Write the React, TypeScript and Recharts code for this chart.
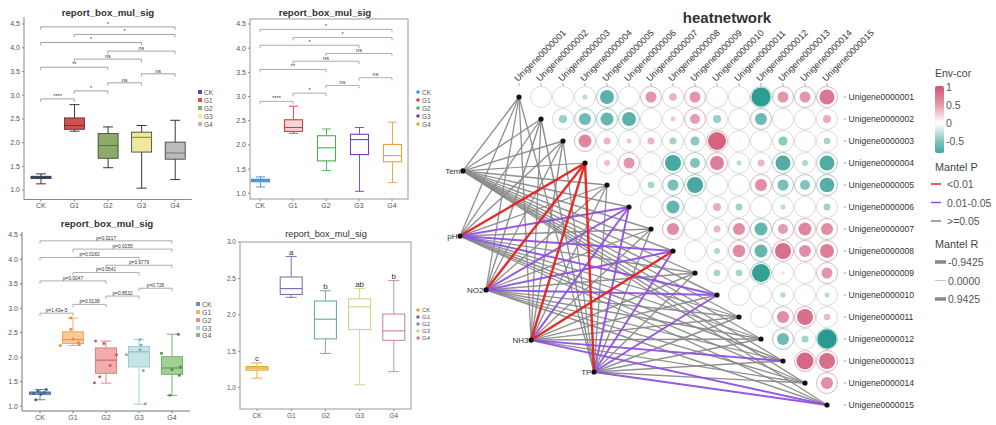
import React from 'react';
import {
  ComposedChart, Bar, XAxis, YAxis, ReferenceLine, LabelList,
  ScatterChart, Scatter, ReferenceDot,
} from 'recharts';

const FONT = '"Liberation Sans", Arial, Helvetica, sans-serif';

// ---------------- box plot data ----------------
const GROUPS = ['CK', 'G1', 'G2', 'G3', 'G4'];
const BOX_MIN = [1.13, 2.24, 1.47, 1.04, 1.22];
const BOX_Q1 = [1.24, 2.28, 1.67, 1.80, 1.65];
const BOX_MEDIAN = [1.27, 2.36, 1.94, 2.11, 1.78];
const BOX_Q3 = [1.29, 2.52, 2.19, 2.22, 2.01];
const BOX_MAX = [1.34, 2.80, 2.33, 2.36, 2.47];
const POINTS_CK = [1.34, 1.31, 1.28, 1.26, 1.24, 1.13];
const POINTS_G1 = [2.80, 2.57, 2.37, 2.30, 2.26, 2.24];
const POINTS_G2 = [2.33, 2.28, 2.05, 1.83, 1.60, 1.48];
const POINTS_G3 = [2.36, 2.25, 2.15, 2.05, 1.73, 1.05];
const POINTS_G4 = [2.47, 2.08, 1.80, 1.75, 1.63, 1.22];
const LETTERS = ['c', 'a', 'b', 'ab', 'b'];

// pairwise comparisons (bottom to top)
const CMP_FROM = ['CK', 'G1', 'G2', 'G3', 'CK', 'G1', 'G2', 'CK', 'G1', 'CK'];
const CMP_TO = ['G1', 'G2', 'G3', 'G4', 'G2', 'G3', 'G4', 'G3', 'G4', 'G4'];
const CMP_STARS = ['****', '*', 'ns', 'ns', '**', 'ns', 'ns', '*', '*', '*'];
const CMP_PVALUES = ['p=1.43e-5', 'p=0.0138', 'p=0.8532', 'p=0.726', 'p=0.0047', 'p=0.0541', 'p=0.6779', 'p=0.0182', 'p=0.0155', 'p=0.0217'];
const BRACKET_Y_A = [2.92, 3.09, 3.26, 3.45, 3.59, 3.76, 3.93, 4.11, 4.28, 4.44];
const BRACKET_Y_B = [2.90, 3.07, 3.23, 3.39, 3.56, 3.73, 3.89, 4.06, 4.22, 4.39];
const BRACKET_Y_C = [2.90, 3.08, 3.25, 3.41, 3.56, 3.73, 3.88, 4.04, 4.21, 4.38];

const TICKS_ABC = [1, 1.5, 2, 2.5, 3, 3.5, 4, 4.5];
const TICKS_D = [1, 1.5, 2, 2.5, 3];

// jitter (fraction of box width) for the dots in panel C
const JITTER = [
  [0.3, -0.1, 0.2, -0.3, 0.05, -0.2],
  [-0.1, -0.1, 0, 0.25, 0.3, -0.6],
  [-0.5, -0.1, 0.5, 0.2, -0.3, -0.55],
  [0.05, 0.1, 0.05, -0.6, 0.2, 0.3],
  [0.3, -0.5, 0.4, 0, 0.35, -0.1],
];
const GROUP_POINTS = [POINTS_CK, POINTS_G1, POINTS_G2, POINTS_G3, POINTS_G4];

const boxData = GROUPS.map((g, i) => ({
  group: g,
  idx: i,
  min: BOX_MIN[i],
  q1: BOX_Q1[i],
  med: BOX_MEDIAN[i],
  q3: BOX_Q3[i],
  max: BOX_MAX[i],
  range: [BOX_MIN[i], BOX_MAX[i]],
  pts: GROUP_POINTS[i],
  letter: LETTERS[i],
}));

// ---------------- heat network data ----------------
const GENES = [
  'Unigene0000001', 'Unigene0000002', 'Unigene0000003', 'Unigene0000004', 'Unigene0000005',
  'Unigene0000006', 'Unigene0000007', 'Unigene0000008', 'Unigene0000009', 'Unigene0000010',
  'Unigene0000011', 'Unigene0000012', 'Unigene0000013', 'Unigene0000014', 'Unigene0000015',
];
// correlation of gene i with genes i+1..15
const COR_ROW_1 = [0, 0, -0.25, -0.7, 0.05, 0.55, 0.38, 0.55, 0.05, 0, -0.95, 0.55, 0.55, 0.75];
const COR_ROW_2 = [-0.4, -0.6, -0.65, -0.7, 0.03, 0.25, 0.5, -0.4, 0.03, -0.6, 0.05, 0, 0.4];
const COR_ROW_3 = [0.65, 0.35, 0.25, 0.35, -0.35, -0.45, 0.9, 0.1, 0, -0.45, 0.08, -0.33];
const COR_ROW_4 = [0.3, 0.55, 0.1, -0.8, -0.5, 0.7, -0.25, 0.35, -0.75, -0.3, -0.75];
const COR_ROW_5 = [0.05, -0.33, -0.55, -0.8, 0, 0.08, 0.6, -0.55, -0.5, -0.73];
const COR_ROW_6 = [0.05, -0.65, 0, 0.4, -0.35, 0.03, -0.25, 0, -0.35];
const COR_ROW_7 = [0.6, 0, 0.35, 0.6, -0.65, 0.5, 0.65, 0.6];
const COR_ROW_8 = [0, -0.3, 0.62, -0.65, 0.8, 0.6, 0.7];
const COR_ROW_9 = [-0.33, -0.33, -0.9, 0.15, 0, 0.55];
const COR_ROW_10 = [0, 0, -0.27, 0.08, -0.25];
const COR_ROW_11 = [0.03, 0.6, 0.8, 0.33];
const COR_ROW_12 = [-0.6, -0.35, -0.97];
const COR_ROW_13 = [0.85, 0.8];
const COR_ROW_14 = [0.6];
const COR_ROWS = [COR_ROW_1, COR_ROW_2, COR_ROW_3, COR_ROW_4, COR_ROW_5, COR_ROW_6, COR_ROW_7,
  COR_ROW_8, COR_ROW_9, COR_ROW_10, COR_ROW_11, COR_ROW_12, COR_ROW_13, COR_ROW_14];

const ENV_NAMES = ['Tem', 'pH', 'NO2', 'NH3', 'TP'];
const MANTEL_P_TEM = [0.3, 0.3, 0.3, 0.3, 0.3, 0.3, 0.3, 0.3, 0.3, 0.3, 0.3, 0.3, 0.3, 0.3, 0.3];
const MANTEL_P_PH = [0.2, 0.2, 0.2, 0.005, 0.2, 0.03, 0.2, 0.02, 0.2, 0.04, 0.2, 0.2, 0.2, 0.2, 0.2];
const MANTEL_P_NO2 = [0.2, 0.2, 0.2, 0.004, 0.2, 0.03, 0.2, 0.03, 0.2, 0.02, 0.2, 0.2, 0.2, 0.2, 0.2];
const MANTEL_P_NH3 = [0.2, 0.2, 0.2, 0.005, 0.2, 0.04, 0.2, 0.006, 0.2, 0.2, 0.2, 0.2, 0.03, 0.2, 0.02];
const MANTEL_P_TP = [0.2, 0.2, 0.2, 0.003, 0.2, 0.03, 0.2, 0.02, 0.2, 0.04, 0.2, 0.2, 0.2, 0.2, 0.03];
const MANTEL_R_TEM = [0.3, 0.25, 0.3, 0.2, 0.3, 0.25, 0.3, 0.28, 0.25, 0.3, 0.25, 0.28, 0.25, 0.3, 0.25];
const MANTEL_R_PH = [0.25, 0.25, 0.3, 0.6, 0.25, 0.45, 0.3, 0.45, 0.25, 0.45, 0.25, 0.25, 0.3, 0.25, 0.25];
const MANTEL_R_NO2 = [0.25, 0.3, 0.25, 0.6, 0.25, 0.45, 0.25, 0.45, 0.3, 0.45, 0.25, 0.3, 0.25, 0.25, 0.3];
const MANTEL_R_NH3 = [0.25, 0.25, 0.3, 0.6, 0.25, 0.45, 0.25, 0.6, 0.3, 0.25, 0.25, 0.3, 0.45, 0.25, 0.45];
const MANTEL_R_TP = [0.25, 0.3, 0.25, 0.6, 0.25, 0.45, 0.3, 0.45, 0.25, 0.45, 0.3, 0.25, 0.3, 0.25, 0.45];
const MANTEL_P = [MANTEL_P_TEM, MANTEL_P_PH, MANTEL_P_NO2, MANTEL_P_NH3, MANTEL_P_TP];
const MANTEL_R = [MANTEL_R_TEM, MANTEL_R_PH, MANTEL_R_NO2, MANTEL_R_NH3, MANTEL_R_TP];
const MANTEL_R_LEGEND = [-0.9425, 0, 0.9425];
const COR_LEGEND_TICKS = [1, 0.5, 0, -0.5];

// layout of environmental nodes in the heat grid's units (column, row)
const ENV_NODE_LAYOUT = [[-1.55, 4.36], [-1.68, 7.32], [-0.5, 9.77], [1.55, 12.05], [4.41, 13.5]];

// ---------------- helpers ----------------
const POS_RGB = [210, 84, 116];
const NEG_RGB = [36, 152, 141];
function corColor(v: number) {
  const t = Math.pow(Math.min(1, Math.abs(v)), 0.8);
  const c = v >= 0 ? POS_RGB : NEG_RGB;
  const m = c.map((ch) => Math.round(255 + (ch - 255) * t));
  return `rgb(${m[0]},${m[1]},${m[2]})`;
}
function ringColor(v: number) {
  const a = Math.abs(v);
  if (a < 0.5) return '#d2d2d2';
  const c = v >= 0 ? POS_RGB : NEG_RGB;
  const t = 0.35;
  const m = c.map((ch) => Math.round(210 + (ch - 210) * t));
  return `rgb(${m[0]},${m[1]},${m[2]})`;
}
const pColor = (p: number) => (p < 0.01 ? '#e3231d' : p < 0.05 ? '#9050e0' : '#8a8a8a');
const rWidth = (r: number) => 0.5 + 3.2 * Math.abs(r);

// ---------------- box panel ----------------
type Cfg = {
  left: number; top: number; width: number; height: number;
  margin: { top: number; right: number; bottom: number; left: number };
  yWidth: number; xHeight: number; domain: [number, number]; ticks: number[];
  xPadding: { left: number; right: number }; barSize: number;
  fills: string[]; strokes: string[]; medians: string[]; whiskers: string[];
  boxStroke: number; fillOpacity: number;
  bracketY?: number[]; bracketLabels?: string[]; bracketColor: string; bracketFont: number; bracketTick: number;
  letters?: boolean; points?: boolean; pointColors?: string[];
  axisLine: boolean; axisColor: string; tickFont: number;
};

function renderBox(props: any, cfg: Cfg) {
  const { x, y, width, height, payload } = props;
  if (!payload || width == null) return <g />;
  const top = Math.min(y, y + height);
  const bot = Math.max(y, y + height);
  const span = payload.max - payload.min;
  const py = (v: number) => bot - ((bot - top) * (v - payload.min)) / span;
  const i = payload.idx;
  const cx = x + width / 2;
  const capW = width * 0.5;
  const ws = cfg.whiskers[i];
  return (
    <g>
      <line x1={cx} x2={cx} y1={py(payload.max)} y2={py(payload.q3)} stroke={ws} strokeWidth={0.9} />
      <line x1={cx} x2={cx} y1={py(payload.q1)} y2={py(payload.min)} stroke={ws} strokeWidth={0.9} />
      <line x1={cx - capW / 2} x2={cx + capW / 2} y1={py(payload.max)} y2={py(payload.max)} stroke={ws} strokeWidth={0.9} />
      <line x1={cx - capW / 2} x2={cx + capW / 2} y1={py(payload.min)} y2={py(payload.min)} stroke={ws} strokeWidth={0.9} />
      <rect x={x} y={py(payload.q3)} width={width} height={Math.max(0.5, py(payload.q1) - py(payload.q3))}
        fill={cfg.fills[i]} fillOpacity={cfg.fillOpacity} stroke={cfg.strokes[i]} strokeWidth={cfg.boxStroke} />
      <line x1={x} x2={x + width} y1={py(payload.med)} y2={py(payload.med)} stroke={cfg.medians[i]} strokeWidth={1.1} />
      {cfg.points && payload.pts.map((v: number, k: number) => (
        <circle key={k} cx={cx + JITTER[i][k] * width} cy={py(v)} r={1.5} fill={cfg.pointColors![i]} />
      ))}
    </g>
  );
}

function bracketLabel(txt: string, font: number) {
  return (p: any) => {
    const vb = p && p.viewBox;
    if (!vb) return null;
    return (
      <text x={vb.x + (vb.width || 0) / 2} y={vb.y - 1.3} textAnchor="middle" fontSize={font} fill="#333" fontFamily={FONT}>
        {txt}
      </text>
    );
  };
}

function BoxPanel({ cfg }: { cfg: Cfg }) {
  const shape = (p: any) => renderBox(p, cfg);
  const brackets: React.ReactNode[] = [];
  if (cfg.bracketY) {
    cfg.bracketY.forEach((yv, k) => {
      const a = CMP_FROM[k];
      const b = CMP_TO[k];
      brackets.push(
        <ReferenceLine key={`h${k}`} segment={[{ x: a, y: yv }, { x: b, y: yv }]} stroke={cfg.bracketColor} strokeWidth={0.8}
          label={{ position: 'top', content: bracketLabel(cfg.bracketLabels![k], cfg.bracketFont) }} />,
        <ReferenceLine key={`l${k}`} segment={[{ x: a, y: yv }, { x: a, y: yv - cfg.bracketTick }]} stroke={cfg.bracketColor} strokeWidth={0.8} />,
        <ReferenceLine key={`r${k}`} segment={[{ x: b, y: yv }, { x: b, y: yv - cfg.bracketTick }]} stroke={cfg.bracketColor} strokeWidth={0.8} />,
      );
    });
  }
  return (
    <div style={{ position: 'absolute', left: cfg.left, top: cfg.top }}>
      <ComposedChart width={cfg.width} height={cfg.height} data={boxData} margin={cfg.margin}>
        <XAxis dataKey="group" type="category" height={cfg.xHeight} padding={cfg.xPadding} interval={0}
          tick={{ fontSize: cfg.tickFont, fill: '#555', fontFamily: FONT }} tickSize={2}
          tickLine={{ stroke: cfg.axisColor }} axisLine={cfg.axisLine ? { stroke: cfg.axisColor } : false} />
        <YAxis type="number" domain={cfg.domain} ticks={cfg.ticks} allowDataOverflow width={cfg.yWidth} interval={0}
          tickFormatter={(v: number) => v.toFixed(1)} tick={{ fontSize: cfg.tickFont, fill: '#555', fontFamily: FONT }}
          tickSize={2} tickLine={{ stroke: cfg.axisColor }} axisLine={cfg.axisLine ? { stroke: cfg.axisColor } : false} />
        {brackets}
        <Bar dataKey="range" barSize={cfg.barSize} shape={shape} isAnimationActive={false}>
          {cfg.letters ? <LabelList dataKey="letter" position="top" offset={2} fontSize={8} fill="#333" fontFamily={FONT} /> : null}
        </Bar>
      </ComposedChart>
    </div>
  );
}

const CFG_A: Cfg = {
  left: 0, top: 0, width: 200, height: 214,
  margin: { top: 16.9, right: 8.25, bottom: 0, left: 0 }, yWidth: 24, xHeight: 14.5,
  domain: [0.8, 4.65], ticks: TICKS_ABC, xPadding: { left: 0, right: 0 }, barSize: 20,
  fills: ['#4A5597', '#D25050', '#8DAA68', '#EFE99E', '#BBBBBB'],
  strokes: ['#333', '#333', '#333', '#333', '#333'],
  medians: ['#2B3470', '#8E2A2A', '#55713A', '#9E9748', '#777777'],
  whiskers: ['#222', '#222', '#222', '#222', '#222'], boxStroke: 0.8, fillOpacity: 1,
  bracketY: BRACKET_Y_A, bracketLabels: CMP_STARS, bracketColor: '#8a8a8a', bracketFont: 5.5, bracketTick: 0.06,
  axisLine: true, axisColor: '#888', tickFont: 7,
};
const CFG_B: Cfg = {
  left: 226, top: 0, width: 190, height: 213,
  margin: { top: 19, right: 8, bottom: 0, left: 0 }, yWidth: 24, xHeight: 14,
  domain: [0.882, 4.603], ticks: TICKS_ABC, xPadding: { left: -6.5, right: -0.5 }, barSize: 18,
  fills: ['#A8CDEB', '#F9D7D7', '#FFFFFF', '#FFFFFF', '#FFFFFF'],
  strokes: ['#3D8FD1', '#D63E3E', '#4CAF50', '#7B3DB3', '#E9A23B'],
  medians: ['#3D8FD1', '#D63E3E', '#4CAF50', '#7B3DB3', '#E9A23B'],
  whiskers: ['#3D8FD1', '#D63E3E', '#4CAF50', '#7B3DB3', '#E9A23B'], boxStroke: 1.1, fillOpacity: 1,
  bracketY: BRACKET_Y_B, bracketLabels: CMP_STARS, bracketColor: '#999', bracketFont: 5.5, bracketTick: 0.06,
  axisLine: false, axisColor: '#888', tickFont: 7,
};
const CFG_C: Cfg = {
  left: 0, top: 215, width: 198, height: 210,
  margin: { top: 17, right: 8, bottom: 0, left: 0 }, yWidth: 22, xHeight: 14,
  domain: [0.9, 4.56], ticks: TICKS_ABC, xPadding: { left: 1.5, right: 1.5 }, barSize: 21,
  fills: ['#7F9DC9', '#F8C48A', '#F1A3A3', '#BEE1E4', '#95CC8A'],
  strokes: ['#5677AE', '#EBA65B', '#DC7C7C', '#99CBD0', '#67AE62'],
  medians: ['#4A6AA0', '#E0963F', '#D06464', '#86BCC2', '#55A052'],
  whiskers: ['#5677AE', '#EBA65B', '#DC7C7C', '#99CBD0', '#67AE62'], boxStroke: 0.9, fillOpacity: 0.9,
  bracketY: BRACKET_Y_C, bracketLabels: CMP_PVALUES, bracketColor: '#999', bracketFont: 4.8, bracketTick: 0.06,
  points: true, pointColors: ['#3E5F98', '#E0903F', '#D05A5A', '#77B0B6', '#4A924A'],
  axisLine: true, axisColor: '#777', tickFont: 7,
};
const CFG_D: Cfg = {
  left: 220, top: 225, width: 199, height: 198,
  margin: { top: 17, right: 8, bottom: 0, left: 0 }, yWidth: 20, xHeight: 14,
  domain: [0.707, 3.0], ticks: TICKS_D, xPadding: { left: 0, right: 0 }, barSize: 22,
  fills: ['#F7DDB0', '#FFFFFF', '#FFFFFF', '#FFFFFF', '#FFFFFF'],
  strokes: ['#E6A43C', '#6C6CA8', '#62A69E', '#C8D27F', '#C97DA6'],
  medians: ['#E6A43C', '#6C6CA8', '#62A69E', '#C8D27F', '#C97DA6'],
  whiskers: ['#E6A43C', '#6C6CA8', '#62A69E', '#C8D27F', '#C97DA6'], boxStroke: 1, fillOpacity: 1,
  bracketColor: '#999', bracketFont: 5, bracketTick: 0.05, letters: true,
  axisLine: false, axisColor: '#888', tickFont: 6.5,
};

// ---------------- heat network ----------------
const heatCells = COR_ROWS.flatMap((row, r) => row.map((v, k) => ({ x: r + 2 + k, y: r + 1, v })));
const GENE_TICKS = GENES.map((_, i) => i + 1);

type Edge = { e: number; g: number; p: number; r: number };
const edges: Edge[] = ENV_NAMES.flatMap((_, e) => GENES.map((__, k) => ({ e, g: k + 1, p: MANTEL_P[e][k], r: MANTEL_R[e][k] })));
const edgeRank = (p: number) => (p < 0.01 ? 2 : p < 0.05 ? 1 : 0);
const sortedEdges = [...edges].sort((a, b) => edgeRank(a.p) - edgeRank(b.p));

const CellShape = (props: any) => {
  const { cx, cy, payload } = props;
  const v = payload.v;
  return (
    <g>
      <circle cx={cx} cy={cy} r={10.5} fill="#fff" stroke={ringColor(v)} strokeWidth={0.8} />
      {Math.abs(v) > 0.001 ? <circle cx={cx} cy={cy} r={Math.max(0.8, 10 * Math.abs(v))} fill={corColor(v)} /> : null}
    </g>
  );
};

const ColTick = (props: any) => {
  const { x, y, payload } = props;
  const tx = x - 1;
  const ty = y + 1;
  return (
    <text x={tx} y={ty} transform={`rotate(-45 ${tx} ${ty})`} fontSize={9} fill="#333" fontFamily={FONT} textAnchor="start">
      {GENES[payload.value - 1]}
    </text>
  );
};

function HeatNetwork() {
  return (
    <div style={{ position: 'absolute', left: 430, top: 0 }}>
      <ScatterChart width={566} height={425} margin={{ top: 6, right: 77.5, left: 1, bottom: 9 }}>
        <XAxis type="number" dataKey="x" orientation="top" domain={[-3, 15.75]} allowDataOverflow ticks={GENE_TICKS}
          interval={0} height={80} axisLine={false} tickSize={3} tickLine={{ stroke: '#aaa' }} tick={ColTick} />
        <YAxis type="number" dataKey="y" orientation="right" reversed domain={[0.5, 15.5]} allowDataOverflow
          ticks={GENE_TICKS} interval={0} width={75} axisLine={false} tickSize={3} tickLine={{ stroke: '#aaa' }}
          tickFormatter={(v: number) => GENES[v - 1]} tick={{ fontSize: 8.6, fill: '#333', fontFamily: FONT }} />
        {sortedEdges.map((ed, k) => (
          <ReferenceLine key={`e${k}`}
            segment={[{ x: ENV_NODE_LAYOUT[ed.e][0], y: ENV_NODE_LAYOUT[ed.e][1] }, { x: ed.g, y: ed.g }]}
            stroke={pColor(ed.p)} strokeWidth={rWidth(ed.r)} strokeOpacity={0.95} />
        ))}
        <Scatter data={heatCells} shape={CellShape} isAnimationActive={false} />
        {GENES.map((g, k) => (
          <ReferenceDot key={`g${k}`} x={k + 1} y={k + 1} r={2.6} fill="#111" stroke="none" />
        ))}
        {ENV_NAMES.map((n, k) => (
          <ReferenceDot key={`n${k}`} x={ENV_NODE_LAYOUT[k][0]} y={ENV_NODE_LAYOUT[k][1]} r={2.6} fill="#111" stroke="none"
            label={{ value: n, position: 'left', offset: 0, fontSize: 8, fill: '#333', fontFamily: FONT }} />
        ))}
      </ScatterChart>
    </div>
  );
}

// ---------------- overlay: titles, frames, legends ----------------
const corBarTop = 86;
const corBarBottom = 153;
const corY = (v: number) => 123.3 - v * 36.2;
const corBarStops = [1.03, 1, 0.5, 0, -0.5, -0.82];

function PanelLegend({ x, ys, colors, font, shape }: { x: number; ys: number[]; colors: string[]; font: number; shape: 'sq' | 'dot' }) {
  return (
    <g>
      {GROUPS.map((g, i) => (
        <g key={g}>
          {shape === 'sq'
            ? <rect x={x} y={ys[i] - 2} width={4} height={4} fill={colors[i]} />
            : <circle cx={x + 2} cy={ys[i]} r={1.8} fill={colors[i]} />}
          <text x={x + 6} y={ys[i]} fontSize={font} fill="#555" dominantBaseline="central">{g}</text>
        </g>
      ))}
    </g>
  );
}

function Overlay() {
  const span = corBarStops[0] - corBarStops[corBarStops.length - 1];
  return (
    <svg width={996} height={425} style={{ position: 'absolute', left: 0, top: 0, pointerEvents: 'none' }} fontFamily={FONT}>
      <defs>
        <linearGradient id="envcor" x1="0" y1="0" x2="0" y2="1">
          {corBarStops.map((v, k) => (
            <stop key={k} offset={(corBarStops[0] - v) / span} stopColor={corColor(Math.max(-1, Math.min(1, v)))} />
          ))}
        </linearGradient>
      </defs>
      {/* titles */}
      <text x={108} y={12} textAnchor="middle" dominantBaseline="central" fontSize={9.7} fontWeight="bold" fill="#333">report_box_mul_sig</text>
      <text x={325} y={12} textAnchor="middle" dominantBaseline="central" fontSize={9.7} fontWeight="bold" fill="#333">report_box_mul_sig</text>
      <text x={107} y={223} textAnchor="middle" dominantBaseline="central" fontSize={9.7} fontWeight="bold" fill="#333">report_box_mul_sig</text>
      <text x={326} y={234} textAnchor="middle" dominantBaseline="central" fontSize={9.3} fill="#333">report_box_mul_sig</text>
      <text x={727} y={17} textAnchor="middle" dominantBaseline="central" fontSize={15} fontWeight="bold" fill="#333">heatnetwork</text>
      {/* panel frames */}
      <rect x={250} y={19} width={158} height={180} fill="none" stroke="#999" strokeWidth={1} />
      <rect x={240} y={242} width={171} height={167} fill="none" stroke="#999" strokeWidth={1} />
      {/* panel legends */}
      <PanelLegend x={198} ys={[92, 100, 108, 116, 124]} colors={CFG_A.fills} font={6.5} shape="sq" />
      <PanelLegend x={416} ys={[92, 100, 108, 116, 124]} colors={CFG_B.strokes} font={6.5} shape="dot" />
      <PanelLegend x={196} ys={[304, 312, 320, 328, 335]} colors={['#6E8DBF', '#F6B56E', '#EE8D8D', '#A9D7DB', '#7FBF73']} font={7} shape="sq" />
      <PanelLegend x={416} ys={[310, 317, 324, 331, 338]} colors={CFG_D.strokes} font={6} shape="dot" />
      {/* heat legend */}
      <text x={935} y={73} fontSize={10.5} fill="#444" dominantBaseline="central">Env-cor</text>
      <rect x={935} y={corBarTop} width={9} height={corBarBottom - corBarTop} rx={2} fill="url(#envcor)" />
      {COR_LEGEND_TICKS.map((v) => (
        <text key={v} x={946} y={corY(v)} fontSize={10.5} fill="#555" dominantBaseline="central">{String(v)}</text>
      ))}
      <text x={935} y={167} fontSize={10.8} fill="#444" dominantBaseline="central">Mantel P</text>
      {[{ l: '<0.01', p: 0.001 }, { l: '0.01-0.05', p: 0.03 }, { l: '>=0.05', p: 0.5 }].map((it, k) => (
        <g key={it.l}>
          <line x1={931} x2={941} y1={184 + k * 18.5} y2={184 + k * 18.5} stroke={pColor(it.p)} strokeWidth={1.5} />
          <text x={947} y={184 + k * 18.5} fontSize={10.5} fill="#555" dominantBaseline="central">{it.l}</text>
        </g>
      ))}
      <text x={935} y={244} fontSize={10.8} fill="#444" dominantBaseline="central">Mantel R</text>
      {MANTEL_R_LEGEND.map((r, k) => (
        <g key={k}>
          <line x1={935} x2={946} y1={262 + k * 18.5} y2={262 + k * 18.5} stroke="#8a8a8a" strokeWidth={rWidth(r)} />
          <text x={948} y={262 + k * 18.5} fontSize={10.5} fill="#555" dominantBaseline="central">{r.toFixed(4)}</text>
        </g>
      ))}
    </svg>
  );
}

export default function App() {
  return (
    <div style={{ position: 'absolute', left: 0, top: 0, width: 996, height: 425, background: '#fff', overflow: 'hidden', fontFamily: FONT }}>
      <BoxPanel cfg={CFG_A} />
      <BoxPanel cfg={CFG_B} />
      <BoxPanel cfg={CFG_C} />
      <BoxPanel cfg={CFG_D} />
      <HeatNetwork />
      <Overlay />
    </div>
  );
}
